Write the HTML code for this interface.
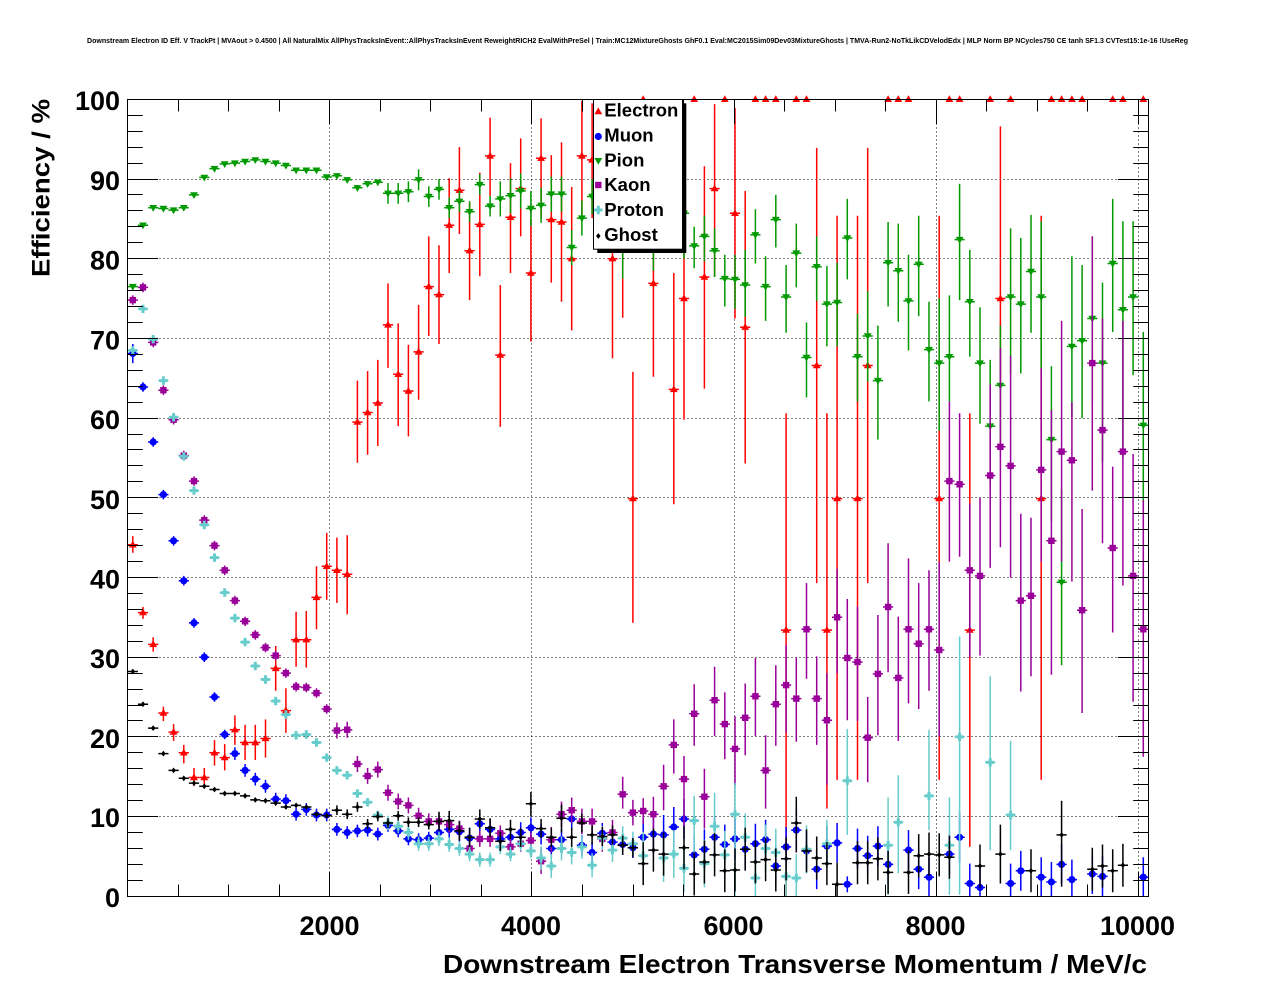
<!DOCTYPE html>
<html>
<head>
<meta charset="utf-8">
<style>
html,body{margin:0;padding:0;background:#fff;}
svg{display:block;}
text{font-family:"Liberation Sans",Arial,sans-serif;font-weight:bold;fill:#000;}
</style>
</head>
<body>
<svg id="s" width="1276" height="996" viewBox="0 0 1276 996" xmlns="http://www.w3.org/2000/svg">
<rect width="1276" height="996" fill="#fff"/>
<defs><clipPath id="c"><rect x="128" y="99.5" width="1020" height="797"/></clipPath></defs>
<text x="87" y="43" font-size="7.5" textLength="1101" lengthAdjust="spacingAndGlyphs">Downstream Electron ID Eff. V TrackPt | MVAout &gt; 0.4500 | All NaturalMix AllPhysTracksInEvent::AllPhysTracksInEvent ReweightRICH2 EvalWithPreSel | Train:MC12MixtureGhosts GhF0.1 Eval:MC2015Sim09Dev03MixtureGhosts | TMVA-Run2-NoTkLikCDVelodEdx | MLP Norm BP NCycles750 CE tanh SF1.3 CVTest15:1e-16 !UseReg</text>
<g id="grid" stroke="#000" stroke-width="1" stroke-dasharray="1 3" fill="none"></g>
<g id="data"></g>
<g id="axes" stroke="#000" stroke-width="1" fill="none">
<rect x="127.5" y="99.5" width="1021" height="797"/>
</g>
<g font-size="27" text-anchor="end">
<text x="120" y="110">100</text>
<text x="120" y="190">90</text>
<text x="120" y="269.5">80</text>
<text x="120" y="349.5">70</text>
<text x="120" y="429">60</text>
<text x="120" y="509">50</text>
<text x="120" y="588.5">40</text>
<text x="120" y="668">30</text>
<text x="120" y="748">20</text>
<text x="120" y="827">10</text>
<text x="120" y="907">0</text>
</g>
<g font-size="27" text-anchor="middle">
<text x="329.5" y="935">2000</text>
<text x="531" y="935">4000</text>
<text x="733.5" y="935">6000</text>
<text x="935.5" y="935">8000</text>
<text x="1137.5" y="935">10000</text>
</g>
<text x="443" y="973" font-size="26" textLength="704" lengthAdjust="spacingAndGlyphs">Downstream Electron Transverse Momentum / MeV/c</text>
<text transform="translate(49.3,99) rotate(-90)" x="0" y="0" font-size="25" text-anchor="end" textLength="178" lengthAdjust="spacingAndGlyphs">Efficiency / %</text>
<g id="legend">
<rect x="597.3" y="103.3" width="89" height="149.7" fill="#000"/>
<rect x="593.5" y="99.5" width="89" height="149.7" fill="#fff" stroke="#000" stroke-width="1"/>
<g font-size="18.5">
<text x="604.3" y="116.7">Electron</text>
<text x="604.3" y="141.5">Muon</text>
<text x="604.3" y="166.3">Pion</text>
<text x="604.3" y="191.2">Kaon</text>
<text x="604.3" y="216">Proton</text>
<text x="604.3" y="240.8">Ghost</text>
</g>
<g id="legm"></g>
</g>
</svg>
<script>
(function(){
const X0=127.7, PX=0.10106, Y0=896.3, PY=7.97;
const bx=i=>X0+PX*(101*i+50.5);
const Y=v=>Y0-v*PY;
const f=n=>n.toFixed(1);

let g='', t='';
for(let v=2000; v<=10000; v+=2000){const x=Math.floor(X0+PX*v)+0.5; g+=`M${x} 99.5V896.5`;}
for(let v=10; v<=90; v+=10){const y=Math.floor(Y(v))+0.5; g+=`M127.5 ${y}H1148.5`;}
for(let v=500; v<=10000; v+=500){const x=Math.floor(X0+PX*v)+0.5; const L=(v%2000===0)?24:12; t+=`M${x} 896.5v-${L}M${x} 99.5v${L}`;}
for(let v=0; v<=100; v+=2){const y=Math.floor(Y(v))+0.5; const L=(v%10===0)?30.6:15.3; t+=`M127.5 ${y}h${L}M1148.5 ${y}h-${L}`;}
document.getElementById('grid').innerHTML=`<path d="${g}"/>`;
document.getElementById('axes').innerHTML+=`<path d="${t}"/>`;

const triU=(x,y)=>`<path d="M${f(x)} ${f(y-4.1)}L${f(x+3.9)} ${f(y+2.7)}L${f(x-3.9)} ${f(y+2.7)}Z"/>`;
const triD=(x,y)=>`<path d="M${f(x)} ${f(y+4.1)}L${f(x+3.9)} ${f(y-2.7)}L${f(x-3.9)} ${f(y-2.7)}Z"/>`;
const circ=(x,y)=>`<circle cx="${f(x)}" cy="${f(y)}" r="3.6"/>`;
const sq=(x,y)=>`<rect x="${f(x-3.2)}" y="${f(y-3.2)}" width="6.4" height="6.4"/>`;
const cross=(x,y)=>`<path d="M${f(x-1.5)} ${f(y-4.2)}h3v2.7h2.7v3h-2.7v2.7h-3v-2.7h-2.7v-3h2.7Z"/>`;
const dia=(x,y)=>`<path d="M${f(x)} ${f(y-2.9)}L${f(x+2.3)} ${f(y)}L${f(x)} ${f(y+2.9)}L${f(x-2.3)} ${f(y)}Z"/>`;

function series(data,color,shape,errf){
  let bars='', marks='';
  for(const d of data){
    const i=d[0], v=d[1]; let lo,hi;
    if(d.length>2){lo=d[2];hi=d[3];}
    else {const e=errf(i); lo=Math.max(0,v-e); hi=Math.min(100,v+e);}
    const x=bx(i), y=Y(v);
    bars+=`M${f(x-5.1)} ${f(y)}H${f(x+5.1)}`;
    if(hi-lo>0.05) bars+=`M${f(x)} ${f(Y(hi))}V${f(Y(lo))}`;
    marks+=shape(x,y);
  }
  return `<path d="${bars}" stroke="${color}" stroke-width="1.5" fill="none" clip-path="url(#c)"/><g fill="${color}">${marks}</g>`;
}

const E=[[0,44.1,43.1,45.2],[1,35.6,34.8,36.3],[2,31.6,30.7,32.5],[3,23.0,22.0,23.8],[4,20.6,19.5,21.6],[5,18.0,16.7,19.0],[6,14.9,13.8,16.1],[7,14.9,13.8,16.1],[8,18.0,16.4,19.6],[9,17.4,15.8,19.1],[10,20.9,19.0,22.7],[11,19.3,17.1,21.5],[12,19.3,17.1,21.5],[13,19.8,17.4,22.2],[14,28.6,25.8,31.4],[15,23.3,20.5,26.1],[16,32.2,28.8,35.7],[17,32.2,28.7,35.8],[18,37.5,33.5,41.4],[19,41.4,37.2,45.6],[20,40.9,36.8,45.0],[21,40.4,35.4,45.3],
[22,59.5,54.4,64.7],[23,60.7,55.4,65.9],[24,61.9,56.5,67.3],[25,71.7,66.3,76.9],[26,65.5,59.0,71.9],[27,63.4,57.7,69.2],[28,68.3,62.3,74.2],[29,76.5,70.3,82.8],[30,75.5,69.3,81.7],[31,84.2,78.2,90.1],[32,88.6,83.1,94.0],[33,81.0,74.8,87.0],[34,84.3,77.8,90.8],[35,92.9,87.9,97.7],[36,67.9,58.9,76.7],[37,85.2,78.2,92.0],[38,88.8,82.8,95.1],[39,78.2,69.6,84.9],[40,92.6,85.1,97.6],[41,84.9,77.0,93.0],[42,84.6,74.6,94.6],[43,80.0,71.0,89.0],[44,92.9,85.1,99.8],[45,92.4,85.1,99.5],[47,80.0,67.5,92],[48,85,72.6,97],[49,49.9,34.3,65.8],[50,100,100,100],[51,76.9,65.2,86.0],[53,63.6,49.2,78.2],[54,75.0,59.8,86],[55,100,100,100],[56,77.7,63.7,91.6],[57,88.8,77.7,99.4],[58,100,100,100],[59,85.7,72.5,98.9],[60,71.4,54.3,88.5],[61,100,100,100],[62,100,100,100],[63,100,100,100],[64,33.4,0,60.6],[65,100,100,100],[66,100,100,100],[67,66.6,39.3,93.9],[68,33.4,11.0,60.6],[69,49.9,14.6,85.4],[71,49.9,14.6,85.4],[72,66.6,39.3,93.9],[74,100,100,100],[75,100,100,100],[76,100,100,100],[79,49.9,14.6,85.4],[80,100,100,100],[81,100,100,100],[82,33.4,6.2,60.6],[84,100,100,100],[85,75.0,64,96.6],[86,100,100,100],[89,49.9,14.6,85.4],[90,100,100,100],[91,100,100,100],[92,100,100,100],[93,100,100,100],[96,100,100,100],[97,100,100,100],[99,100,100,100]];

const M=[[0,68.1,66.9,69.3],[1,63.9],[2,57.0],[3,50.4],[4,44.6],[5,39.6],[6,34.3],[7,30.0],[8,25.0],[9,20.3],[10,17.9],[11,15.8],[12,14.7],[13,13.8],[14,12.2],[15,12.0],[16,10.3],[17,10.9],[18,10.2],[19,10.2],[20,8.4],[21,8.0],[22,8.2],[23,8.3],[24,7.8],[25,8.9],[26,8.2],[27,7.2],[28,7.1],[29,7.3],[30,8.0],[31,8.4],[32,8.1],[33,7.3],[34,9.1],[35,8.4],[36,7.2],[37,7.4],[38,8.0],[39,8.6],[40,7.8],[41,6.0],[42,7.1],[43,9.7],[44,6.4],[45,5.5],[46,7.9],[47,6.8],[48,6.5],[49,6.1],[50,7.4],[51,7.8],[52,7.7],[53,8.7],[54,9.7],[55,5.2],[56,5.9],[57,7.4],[58,6.5],[59,7.2],[60,5.9],[61,6.6],[62,7.1],[63,3.8],[64,6.2],[65,8.3],[66,5.7],[67,3.4],[68,6.3],[69,6.7],[70,1.5,0.5,2.5],[71,6.0],[72,5.1],[73,6.3],[74,4.0],[76,5.8],[77,3.4],[78,2.4],[80,5.3],[81,7.4,4.2,10.5],[82,1.6],[83,1.1],[86,1.6],[87,3.2],[89,2.4],[90,1.8],[91,4.0],[92,2.1],[94,2.8],[95,2.5],[99,2.4]];

const P=[[0,76.5],[1,84.2],[2,86.4],[3,86.3],[4,86.1],[5,86.4],[6,88.0],[7,90.2],[8,91.3],[9,91.9],[10,92.0],[11,92.2],[12,92.4],[13,92.2],[14,92.0],[15,91.7],[16,91.1],[17,91.1],[18,91.1],[19,90.25],[20,90.4],[21,89.9],[22,88.9],[23,89.4],[24,89.6],[25,88.2],[26,88.2],[27,88.4],[28,89.9],[29,87.8],[30,88.7],[31,86.4],[32,87.2],[33,85.9],[34,89.3],[35,86.6],[36,87.5],[37,87.9],[38,88.5],[39,86.3],[40,86.7],[41,88.1],[42,88.1],[43,81.4],[44,85.1],[45,87.8],[46,85],[47,84],[48,83,77.5,88],[49,85],[50,84],[51,84,78.5,89],[52,85],[53,84],[54,85.7,80,91],
[55,81.6,78.8,84.0],[56,82.8,79.7,85.4],[57,81.0,77.7,83.8],[58,77.5,74.0,80.5],[59,77.4,73.7,80.5],[60,76.7,72.7,81.1],[61,83.0,79.4,86.2],[62,76.5,72.2,80.3],[63,84.9,81.4,88.0],[64,75.2,70.7,79.2],[65,80.7,76.4,84.4],[66,67.6,62.6,72.0],[67,79.0,74.7,82.8],[68,74.3,69.0,79.1],[69,74.5,69,79.5],[70,82.6,77.4,87.5],[71,67.7,62.1,73.1],[72,70.3,64.6,75.9],[73,64.7,57.3,71.6],[74,79.5,74.0,84.6],[75,78.5,72.1,84.4],[76,74.7,68.5,80.5],[77,79.3,72.8,85.4],[78,68.6,62.1,74.6],[79,66.9,58.4,75.0],[80,67.7,62.1,75.4],[81,82.4,74.8,89.4],[82,74.6,67.7,81.1],[83,66.9,59.3,73.9],[84,59.0,51.6,67.3],[85,64.1,56,71.6],[86,75.2,65.6,83.8],[87,74.3,65.6,82.6],[88,78.4,70.7,85.5],[89,75.2,65.6,84.7],[90,57.3,47,66.5],[91,39.4,29,51],[92,69.0,60.0,80.3],[93,69.7,60.0,79.2],[94,72.5,62,82.8],[95,66.9,54.5,77.0],[96,79.4,70.8,87.5],[97,73.6,55.0,84.7],[98,75.2,65.4,84.7],[99,59.1,49.3,70.8]];

const K=[[0,74.8],[1,76.4],[2,69.5],[3,63.5],[4,59.8],[5,55.3],[6,52.1],[7,47.2],[8,44.0],[9,40.9],[10,37.1],[11,34.5],[12,32.8],[13,31.2],[14,30.2],[15,28.0],[16,26.3],[17,26.2],[18,25.5],[19,23.5],[20,20.8],[21,20.9],[22,16.6],[23,15.1],[24,15.9],[25,13.0],[26,11.9],[27,11.4],[28,10.1],[29,9.4],[30,9.4],[31,9.0],[32,8.5],[33,6.0],[34,7.2],[35,7.2],[36,7.9],[37,6.2],[38,6.6],[39,7.0],[40,4.4],[41,7.1],[42,10.3],[43,10.8],[44,9.4],[45,9.4],[46,7.2],[47,8.0],[48,12.8,11,15],[49,10.5],[50,10.7],
[51,10.3,8.5,12.5],[52,13.8,10.8,16.5],[53,19.0,15.4,22.2],[54,14.7,8.7,17.6],[55,22.9,18.9,26.6],[56,12.5,8.5,16],[57,24.6,20.1,28.8],[58,21.6,17.2,25.6],[59,18.5,13.8,22.6],[60,22.4,17.7,26.7],[61,25.1,20.1,29.9],[62,15.8,11.0,20.2],[63,24.1,18.9,29.0],[64,26.5,20.5,31.5],[65,24.8,19.4,30.0],[66,33.5,27.3,39.3],[67,24.8,19.0,30.1],[68,22.1,14,28],[69,35.0,28,41.1],[70,29.9,22.1,37.3],[71,29.4,22,36.4],[72,19.9,14.3,25.0],[73,27.9,20.2,35.3],[74,36.3,28.1,44.3],[75,27.4,19.5,35.1],[76,33.5,24.2,42.4],[77,31.7,23.5,39.3],[78,33.5,25.8,40.9],[79,30.9,20,42],[80,52.1,42.0,62.1],[81,51.7,42.6,60.6],[82,40.9,30,49.3],[83,40.2,30.2,50.0],[84,52.8,41.2,64.2],[85,56.4,43.8,68.8],[86,54.0,40.0,67.8],[87,37.1,25.7,48.0],[88,37.7,27.6,47.5],[89,53.5,42,66.3],[90,44.6,27.8,61.0],[91,55.8,42,72.2],[92,54.7,39.5,62],[93,35.9,23.0,48.6],[94,66.9,50.9,82.8],[95,58.5,44.3,72.5],[96,43.7,33.1,53.9],[97,55.8,39.0,72.2],[98,40.2,24.4,55.5],[99,33.5,17.5,49.7]];

const C=[[0,68.5],[1,73.7],[2,69.9],[3,64.7],[4,60.1],[5,55.2],[6,50.9],[7,46.6],[8,42.5],[9,38.1],[10,34.9],[11,31.9],[12,28.9],[13,27.2],[14,24.5],[15,22.8],[16,20.2],[17,20.3],[18,19.3],[19,17.4],[20,15.8],[21,15.2],[22,12.9],[23,11.8],[24,10.2],[25,9.2],[26,8.8],[27,8.0],[28,6.6],[29,6.6],[30,7.2],[31,6.5],[32,6.0],[33,5.3],[34,4.6],[35,4.6],[36,6.2],[37,5.3],[38,6.6],[39,5.7],[40,4.8],[41,3.8],[42,6.0],[43,5.5],[44,6.2],[45,3.9],[46,7.3],[47,5.8],[48,7.3],[49,6.6],[50,5.1],
[52,4.8],[53,5.3],[54,3.5],[55,9.5,1.7,12.6],[56,4.1],[57,8.8,4,13],[58,5.2],[59,10.3,0,14.2],[60,7.4],[61,2.3],[62,6.0],[63,5.5],[64,2.5],[65,2.3],[66,5.9],[68,6.6],[70,14.5,7.7,21.0],[74,6.4,0.2,12.4],[75,9.3,2.9,15.2],[78,12.6,8.3,20.9],[80,6.4,0.2,12.4],[81,20.0,0.2,32.6],[84,16.8,5.8,27.6],[86,10.2,5.8,19.5]];

const G=[[0,28.2],[1,24.1],[2,21.1],[3,17.9],[4,15.8],[5,14.8],[6,14.2],[7,13.8],[8,13.4],[9,12.9],[10,12.9],[11,12.6],[12,12.1],[13,12.0],[14,11.7],[15,11.2],[16,11.4],[17,11.2],[18,10.3],[19,10.1],[20,10.8],[21,10.3],[22,11.2],[23,9.1],[24,10.0],[25,9.2],[26,10.1],[27,9.3],[28,9.3],[29,9.0],[30,9.4],[31,9.5],[32,8.2],[33,7.4],[34,9.7],[35,8.6],[36,6.9],[37,8.4],[38,7.4],[39,11.6,10.0,13.1],[40,8.5],[41,7.4],[42,9.8,8,11.5],[43,7.4],[44,9.2],[45,7.7],[46,7.5],[47,7.7],[48,6.4],[49,6.1],[50,4.1],[51,5.8],[52,5.3],[54,6.1],[55,2.8],[56,4.3],[57,5.2],[58,3.2],[59,3.3],[60,5.9],[61,4.3],[62,4.6],[63,3.3],[64,4.7],[65,9.2,5.5,12.5],[66,5.7],[67,4.8],[68,4.1],[69,1.5],[71,4.2],[72,4.2],[73,4.7],[74,3.0],[76,3.0],[77,5.1],[78,5.3],[79,5.2],[80,4.9],[83,3.8],[85,5.3,1.6,9.0],[88,3.2],[91,7.7,1.2,12.0],[94,3.4],[95,3.8],[96,3.2],[97,3.9]];

const RED='#ff0000', BLUE='#0000ff', GREEN='#009900', PURP='#990099', CYAN='#66cccc', BLK='#000000';
let out='';
out+=series(E,RED,triU,i=>1);
out+=series(M,BLUE,circ,i=>i<10?0.6:i<30?0.8:i<50?1.3:2.5);
out+=series(P,GREEN,triD,i=>i<25?0.3:i<36?1.3:2.2);
out+=series(K,PURP,sq,i=>i<20?0.6:i<40?1.0:1.6);
out+=series(C,CYAN,cross,i=>i<25?0.5:i<40?0.9:i<50?1.5:3);
out+=series(G,BLK,dia,i=>i<20?0.2:i<30?0.6:i<50?1.2:2.7);
document.getElementById('data').innerHTML=out;

let lm='';
lm+=`<g fill="${RED}">${triU(598.3,111.5)}</g>`;
lm+=`<g fill="${BLUE}">${circ(598.3,136.5)}</g>`;
lm+=`<g fill="${GREEN}">${triD(598.3,160.7)}</g>`;
lm+=`<g fill="${PURP}">${sq(598.3,185)}</g>`;
lm+=`<g fill="${CYAN}">${cross(598.3,210)}</g>`;
lm+=`<g fill="${BLK}">${dia(598.3,236)}</g>`;
document.getElementById('legm').innerHTML=lm;
})();
</script>
</body>
</html>
